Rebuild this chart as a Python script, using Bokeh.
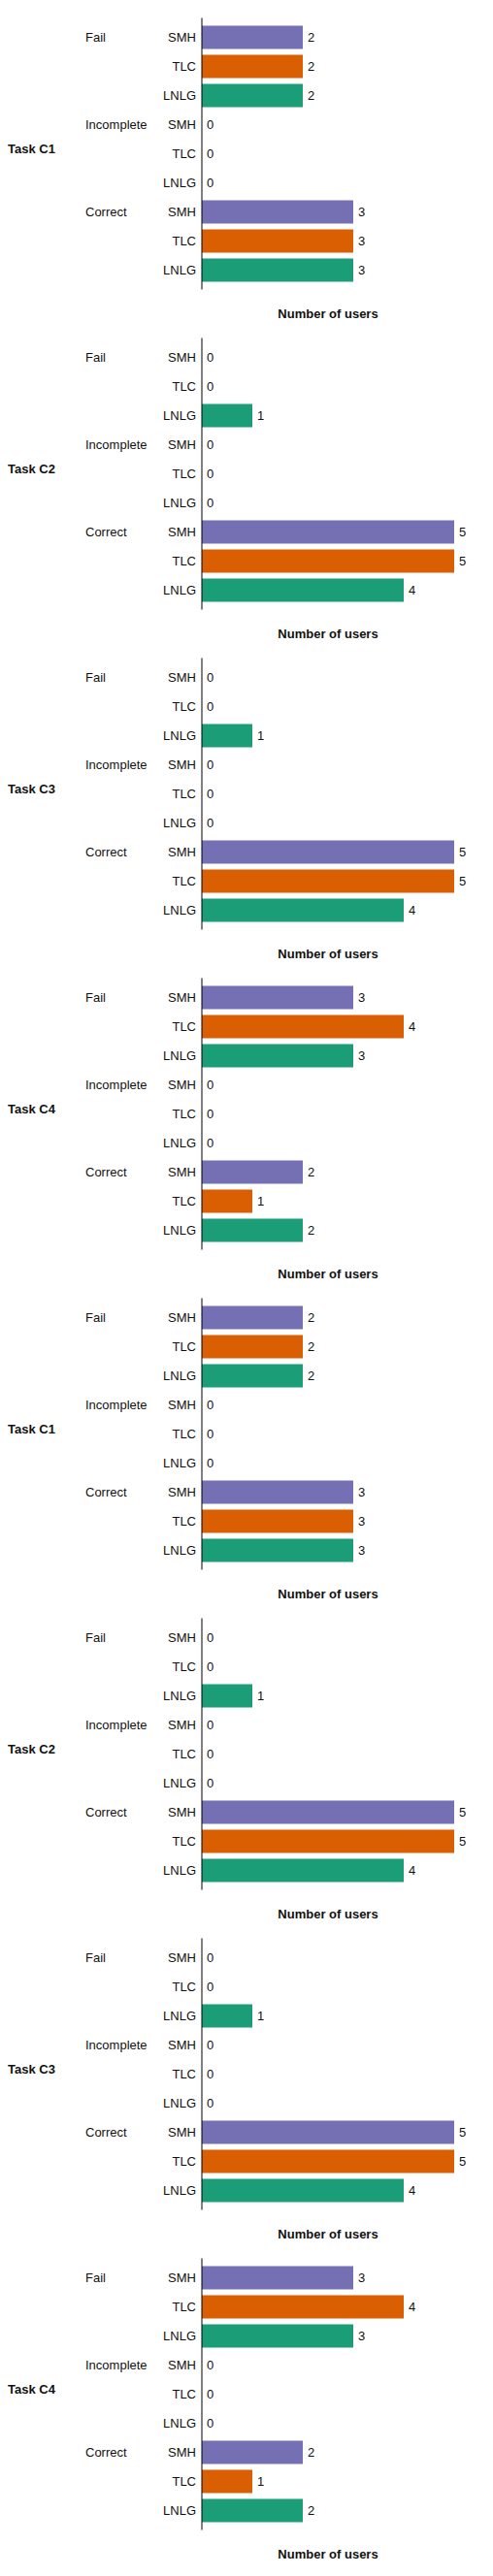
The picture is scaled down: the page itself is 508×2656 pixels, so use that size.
from bokeh.plotting import figure
from bokeh.models import ColumnDataSource, Range1d
from bokeh.core.properties import value
from bokeh.layouts import column
from bokeh.embed import file_html
from bokeh.resources import INLINE

# ---- data ----
tasks = ["Task C1", "Task C2", "Task C3", "Task C4", "Task C1", "Task C2", "Task C3", "Task C4"]
statuses = ["Fail", "Incomplete", "Correct"]
systems = ["SMH", "TLC", "LNLG"]
system_colors = ["#7570b3", "#d95f02", "#1b9e77"]

fail_smh = [2, 0, 0, 3, 2, 0, 0, 3]
fail_tlc = [2, 0, 0, 4, 2, 0, 0, 4]
fail_lnlg = [2, 1, 1, 3, 2, 1, 1, 3]
incomplete_smh = [0, 0, 0, 0, 0, 0, 0, 0]
incomplete_tlc = [0, 0, 0, 0, 0, 0, 0, 0]
incomplete_lnlg = [0, 0, 0, 0, 0, 0, 0, 0]
correct_smh = [3, 5, 5, 2, 3, 5, 5, 2]
correct_tlc = [3, 5, 5, 1, 3, 5, 5, 1]
correct_lnlg = [3, 4, 4, 2, 3, 4, 4, 2]

x_axis_label = "Number of users"

series = [
    fail_smh, fail_tlc, fail_lnlg,
    incomplete_smh, incomplete_tlc, incomplete_lnlg,
    correct_smh, correct_tlc, correct_lnlg,
]

FONT = "Liberation Sans"
TXT = "#111111"

row_status = [s for s in statuses for _ in systems]
row_system = [sy for _ in statuses for sy in systems]
n = len(row_status)
rows = list(range(n))
x_max = max(max(s) for s in series)

W = 500
PANEL_H = 330
PX_UNIT = 52.0      # pixels per user
X0 = 207.5          # pixel position of zero
ROW = 30.0          # pixels per row
PAGE_TOP = 8        # extra space above the first panel

figs = []
for i, task in enumerate(tasks):
    top = PAGE_TOP if i == 0 else 0
    H = PANEL_H + top
    vals = [s[i] for s in series]
    cols = [system_colors[systems.index(sy)] for sy in row_system]
    src = ColumnDataSource(dict(y=rows, v=vals, c=cols, t=[str(v) for v in vals], cat=row_system))

    p = figure(width=W, height=H,
               x_range=Range1d(-X0 / PX_UNIT, (W - X0) / PX_UNIT),
               y_range=Range1d((H - top - ROW) / ROW, -(top + ROW) / ROW),
               output_backend="svg", toolbar_location=None,
               min_border=0, min_border_left=0, min_border_right=0,
               min_border_top=0, min_border_bottom=0)
    p.outline_line_color = None
    p.xgrid.visible = False
    p.ygrid.visible = False
    p.xaxis.visible = False
    p.yaxis.visible = False

    p.hbar(y="y", right="v", left=0, height=0.8, color="c", line_color=None, source=src)

    # vertical axis line
    p.segment(x0=[0], y0=[-2 / 3], x1=[0], y1=[n - 1 + 2 / 3], line_color="black", line_width=1)

    # value labels
    p.text(x="v", y="y", text="t", source=src, x_offset=5, text_baseline="middle",
           text_align="left", text_font=value(FONT), text_font_size="13px", text_color=TXT)

    # system (category) labels
    p.text(x=0, y="y", text="cat", source=src, x_offset=-6, text_baseline="middle",
           text_align="right", text_font=value(FONT), text_font_size="13px", text_color=TXT)

    # status group labels at the first row of each group
    gsrc = ColumnDataSource(dict(y=[row_status.index(s) for s in statuses], x=[0] * 3, t=statuses))
    p.text(x="x", y="y", text="t", source=gsrc, x_offset=-120, text_baseline="middle",
           text_align="left", text_font=value(FONT), text_font_size="13px", text_color=TXT)

    # task label
    tsrc = ColumnDataSource(dict(y=[(n - 1) / 2], x=[0], t=[task]))
    p.text(x="x", y="y", text="t", source=tsrc, x_offset=-200, y_offset=-5,
           text_baseline="middle", text_align="left", text_font=value(FONT),
           text_font_size="13px", text_font_style="bold", text_color=TXT)

    # x axis title
    asrc = ColumnDataSource(dict(y=[n + 0.5], x=[x_max / 2], t=[x_axis_label]))
    p.text(x="x", y="y", text="t", source=asrc, text_baseline="middle", text_align="center",
           text_font=value(FONT), text_font_size="13px", text_font_style="bold", text_color=TXT)

    figs.append(p)

layout = column(*figs, spacing=0)
open("out.html", "w").write(file_html(layout, INLINE))
